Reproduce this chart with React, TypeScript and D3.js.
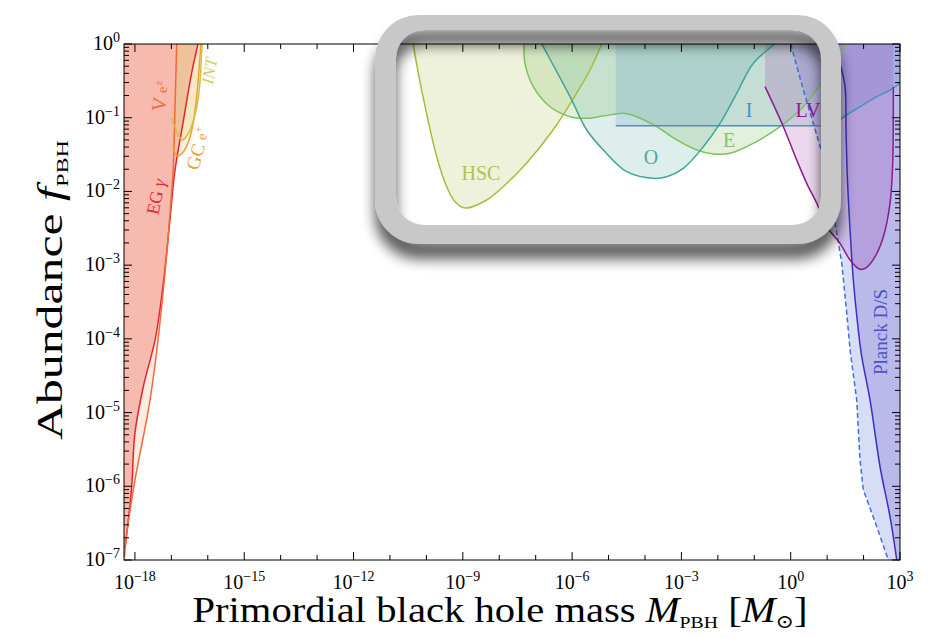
import React from 'react';
import * as d3 from 'd3';

type P = [number, number];

// tick exponents
const xTickExponents = [-18, -15, -12, -9, -6, -3, 0, 3];
const yTickExponents = [0, -1, -2, -3, -4, -5, -6, -7];

// constraint curves: [log10 M/Msun, log10 f_PBH]
const egGamma: P[] = [[-18.27, -6.84], [-18.09, -6.01], [-18.0, -5.28], [-17.77, -4.65], [-17.45, -4.02], [-17.22, -3.24], [-17.04, -2.39], [-16.9, -1.71], [-16.68, -1.07], [-16.41, -0.31], [-16.27, 0]];
const voyager: P[] = [[-18.29, -6.97], [-18.245, -6.73], [-18.045, -6.05], [-17.586, -4.83], [-17.175, -3.11], [-17.01, -2.12], [-16.955, -1.75], [-16.9, -0.855], [-16.853, 0]];
const galacticCentre: P[] = [[-16.955, -1.37], [-16.9, -1.48], [-16.82, -1.52], [-16.68, -1.47], [-16.54, -1.34], [-16.41, -1.1], [-16.3, -0.69], [-16.24, -0.35], [-16.19, 0]];
const integral: P[] = [[-16.99, -1.01], [-16.71, -1.3], [-16.63, -1.28], [-16.49, -1.17], [-16.3, -0.85], [-16.21, -0.49], [-16.17, -0.12], [-16.15, 0]];
const hsc: P[] = [[-10.367, 0], [-10.093, -0.715], [-9.716, -1.529], [-9.442, -1.936], [-9.214, -2.139], [-8.939, -2.225], [-8.344, -2.116], [-7.896, -1.936], [-7.246, -1.614], [-6.524, -1.167], [-5.873, -0.665], [-5.508, -0.353], [-5.187, 0]];
const ogle: P[] = [[-6.834, 0], [-6.057, -0.715], [-5.599, -1.167], [-5.143, -1.438], [-4.501, -1.732], [-3.771, -1.822], [-3.403, -1.8], [-2.947, -1.686], [-2.398, -1.393], [-1.94, -1.076], [-1.482, -0.669], [-1.026, -0.262], [-0.43, 0]];
const eros: P[] = [[-7.32, 0], [-7.293, -0.262], [-7.065, -0.579], [-6.606, -0.851], [-6.057, -0.986], [-5.599, -1.008], [-5.143, -0.977], [-4.594, -0.94], [-4.227, -0.986], [-3.677, -1.122], [-3.128, -1.302], [-2.579, -1.438], [-2.124, -1.492], [-1.665, -1.483], [-1.026, -1.347], [-0.293, -1.122], [0.347, -0.851], [0.896, -0.488], [1.538, 0]];
const icarus: P[] = [[-4.803, -1.108], [1.135, -1.108], [1.401, -1.008], [1.903, -0.851], [2.361, -0.715], [2.726, -0.624], [3.0, -0.533]];
const ligoVirgo: P[] = [[-0.705, -0.579], [-0.202, -1.122], [0.165, -1.574], [0.44, -1.89], [0.715, -2.161], [0.989, -2.479], [1.354, -2.704], [1.629, -2.93], [1.903, -3.057], [2.087, -3.029], [2.315, -2.886], [2.543, -2.614], [2.726, -2.161], [2.8, -1.619], [2.817, -0.94], [2.817, -0.579]];
const planckD: P[] = [[1.244, 0], [1.354, -0.262], [1.491, -0.579], [1.518, -1.167], [1.554, -1.8], [1.629, -2.523], [1.719, -3.202], [1.856, -3.88], [1.95, -4.242], [2.178, -4.83], [2.452, -5.735], [2.726, -6.413], [2.911, -7.0]];
const planckS: P[] = [[0.0, 0], [0.347, -0.624], [0.852, -1.465], [1.217, -2.428], [1.401, -2.971], [1.538, -3.649], [1.629, -4.151], [1.812, -4.83], [1.903, -5.644], [1.994, -6.051], [2.268, -6.417], [2.68, -7.0]];

const W = 935, H = 638;
const PL = 124, PR = 900, PT = 44, PB = 560;
const FONT = "'Liberation Serif', 'DejaVu Serif', serif";

const x = d3.scaleLog().domain([Math.pow(10, -18.3), 1e3]).range([PL, PR]);
const y = d3.scaleLog().domain([1e-7, 1]).range([PB, PT]);
const px = (p: P): [number, number] => [x(Math.pow(10, p[0])), y(Math.pow(10, p[1]))];

const smooth = d3.curveCatmullRom.alpha(0.5);

function curvePath(pts: P[], curve: any = smooth): string {
  return d3.line<P>().x(d => px(d)[0]).y(d => px(d)[1]).curve(curve)(pts) || '';
}
function areaPath(pts: P[], extra: P[], curve: any = smooth): string {
  let s = curvePath(pts, curve);
  extra.forEach(e => { const [a, b] = px(e); s += `L${a},${b}`; });
  return s + 'Z';
}

interface Region { name: string; pts: P[]; extra: P[]; fill: string; stroke: string; dash?: string; curve?: any; }

const regions: Region[] = [
  { name: 'EG', pts: egGamma, extra: [[-18.3, 0], [-18.3, -6.84]], fill: 'rgba(235,90,80,0.35)', stroke: '#e4262c', curve: d3.curveMonotoneY },
  { name: 'V', pts: voyager, extra: [[-18.3, 0], [-18.3, -7]], fill: 'rgba(240,130,60,0.15)', stroke: '#f06a3a', curve: d3.curveMonotoneY },
  { name: 'GC', pts: galacticCentre, extra: [[-16.853, 0]], fill: 'rgba(240,170,80,0.2)', stroke: '#f0a030' },
  { name: 'INT', pts: integral, extra: [[-16.853, 0]], fill: 'rgba(220,210,100,0.2)', stroke: '#d0c040' },
  { name: 'HSC', pts: hsc, extra: [], fill: 'rgba(190,205,110,0.25)', stroke: '#a8bc3c' },
  { name: 'E', pts: eros, extra: [], fill: 'rgba(140,200,110,0.25)', stroke: '#7cc060' },
  { name: 'O', pts: ogle, extra: [], fill: 'rgba(90,170,160,0.2)', stroke: '#3fa595' },
  { name: 'I', pts: icarus, extra: [[3, 0], [-4.803, 0]], fill: 'rgba(80,150,190,0.2)', stroke: '#4890c8', curve: d3.curveMonotoneX },
  { name: 'PS', pts: planckS, extra: [[3, -7], [3, 0]], fill: 'rgba(100,120,220,0.25)', stroke: '#3f6fe0', dash: '5,3', curve: d3.curveLinear },
  { name: 'PD', pts: planckD, extra: [[3, -7], [3, 0]], fill: 'rgba(90,80,200,0.25)', stroke: '#3a2fc0' },
  { name: 'LV', pts: ligoVirgo, extra: [[2.817, 0], [-0.705, 0]], fill: 'rgba(160,60,170,0.2)', stroke: '#8c1c8c' },
];

function rr(x0: number, y0: number, w: number, h: number, r: number): string {
  return `M${x0 + r},${y0}H${x0 + w - r}A${r},${r} 0 0 1 ${x0 + w},${y0 + r}V${y0 + h - r}A${r},${r} 0 0 1 ${x0 + w - r},${y0 + h}H${x0 + r}A${r},${r} 0 0 1 ${x0},${y0 + h - r}V${y0 + r}A${r},${r} 0 0 1 ${x0 + r},${y0}Z`;
}

const expText = (e: number) => (e < 0 ? '−' + (-e) : String(e));

export default function App() {
  const xTicks = d3.range(-18, 4);
  const yMajor = d3.range(-7, 1);
  const yMinor: number[] = [];
  for (let e = -7; e < 0; e++) for (let k = 2; k <= 9; k++) yMinor.push(Math.log10(k) + e);

  return (
    <svg width={W} height={H} style={{ position: 'absolute', left: 0, top: 0, background: '#fff' }} fontFamily={FONT}>
      <defs>
        <clipPath id="plot"><rect x={PL} y={PT} width={PR - PL} height={PB - PT} /></clipPath>
        <filter id="shadow" x="-10%" y="-20%" width="120%" height="160%">
          <feGaussianBlur in="SourceAlpha" stdDeviation="7" />
          <feOffset dy="15" result="o" />
          <feComponentTransfer><feFuncA type="linear" slope="0.65" /></feComponentTransfer>
          <feMerge><feMergeNode /><feMergeNode in="SourceGraphic" /></feMerge>
        </filter>
      </defs>
      <rect width={W} height={H} fill="#fff" />
      <g clipPath="url(#plot)">
        {regions.map(r => (
          <path key={r.name + 'f'} d={areaPath(r.pts, r.extra, r.curve || smooth)} fill={r.fill} stroke="none" />
        ))}
        {regions.map(r => (
          <path key={r.name + 's'} d={curvePath(r.pts, r.curve || smooth)} fill="none" stroke={r.stroke} strokeWidth={1.5} strokeDasharray={r.dash} />
        ))}
      </g>
      {/* region labels */}
      <g fontFamily={FONT}>
        <text transform="translate(162,198) rotate(-78)" textAnchor="middle" fill="#e4262c" fontSize={18}>EG <tspan fontStyle="italic">γ</tspan></text>
        <text transform="translate(167,97) rotate(-82)" textAnchor="middle" fill="#f06a3a" fontSize={20}>V <tspan fontSize={14} dy={-1}>e</tspan><tspan fontSize={11} dy={-6}>±</tspan></text>
        <text transform="translate(204,150) rotate(-75)" textAnchor="middle" fill="#f0a030" fontSize={19}>GC <tspan fontSize={14} dy={-1}>e</tspan><tspan fontSize={11} dy={-6}>+</tspan></text>
        <text transform="translate(215,72) rotate(-80)" textAnchor="middle" fill="#d4cc60" fontSize={17} fontStyle="italic">INT</text>
        <text x={481} y={180} textAnchor="middle" fill="#b4c050" fontSize={20}>HSC</text>
        <text x={651} y={164} textAnchor="middle" fill="#50a898" fontSize={20}>O</text>
        <text x={729} y={147} textAnchor="middle" fill="#88c070" fontSize={20}>E</text>
        <text x={749} y={117} textAnchor="middle" fill="#4a90c8" fontSize={20}>I</text>
        <text x={808} y={117} textAnchor="middle" fill="#8c1c8c" fontSize={20}>LV</text>
        <text transform="translate(887,332) rotate(-90)" textAnchor="middle" fill="#5050c8" fontSize={19}>Planck D/S</text>
      </g>
      {/* axes frame */}
      <rect x={PL} y={PT} width={PR - PL} height={PB - PT} fill="none" stroke="#000" strokeWidth={1} />
      {xTicks.map(e => {
        const xx = x(Math.pow(10, e));
        const len = e % 3 === 0 ? 8 : 5;
        return (
          <g key={'xt' + e}>
            <line x1={xx} x2={xx} y1={PB} y2={PB - len} stroke="#000" />
            <line x1={xx} x2={xx} y1={PT} y2={PT + len} stroke="#000" />
          </g>
        );
      })}
      {yMajor.map(e => {
        const yy = y(Math.pow(10, e));
        return (
          <g key={'ym' + e}>
            <line x1={PL} x2={PL + 8} y1={yy} y2={yy} stroke="#000" />
            <line x1={PR} x2={PR - 8} y1={yy} y2={yy} stroke="#000" />
          </g>
        );
      })}
      {yMinor.map((e, i) => {
        const yy = y(Math.pow(10, e));
        return (
          <g key={'yn' + i}>
            <line x1={PL} x2={PL + 5} y1={yy} y2={yy} stroke="#000" />
            <line x1={PR} x2={PR - 5} y1={yy} y2={yy} stroke="#000" />
          </g>
        );
      })}
      {xTickExponents.map(e => (
        <text key={'xl' + e} x={x(Math.pow(10, e))} y={589} textAnchor="middle" fontSize={20}>
          10<tspan fontSize={14} dy={-8}>{expText(e)}</tspan>
        </text>
      ))}
      {yTickExponents.map(e => (
        <text key={'yl' + e} x={120} y={y(Math.pow(10, e)) + 6} textAnchor="end" fontSize={20}>
          10<tspan fontSize={14} dy={-8}>{expText(e)}</tspan>
        </text>
      ))}
      <text x={500} y={622} textAnchor="middle" fontSize={35} textLength={615} lengthAdjust="spacingAndGlyphs">
        Primordial black hole mass <tspan fontStyle="italic">M</tspan><tspan fontSize={17} dy={6}>PBH</tspan><tspan dy={-6}> [</tspan><tspan fontStyle="italic">M</tspan><tspan fontSize={19} dy={6}>⊙</tspan><tspan dy={-6}>]</tspan>
      </text>
      <text transform="translate(62,290) rotate(-90)" textAnchor="middle" fontSize={35} textLength={300} lengthAdjust="spacingAndGlyphs">
        Abundance <tspan fontStyle="italic">f</tspan><tspan fontSize={17} dy={6}>PBH</tspan>
      </text>
      {/* highlight frame */}
      <g filter="url(#shadow)">
        <path d={rr(375, 15, 466, 229, 44) + rr(396, 30, 425, 195, 28)} fill="#c8c8c8" fillRule="evenodd" />
      </g>
    </svg>
  );
}
